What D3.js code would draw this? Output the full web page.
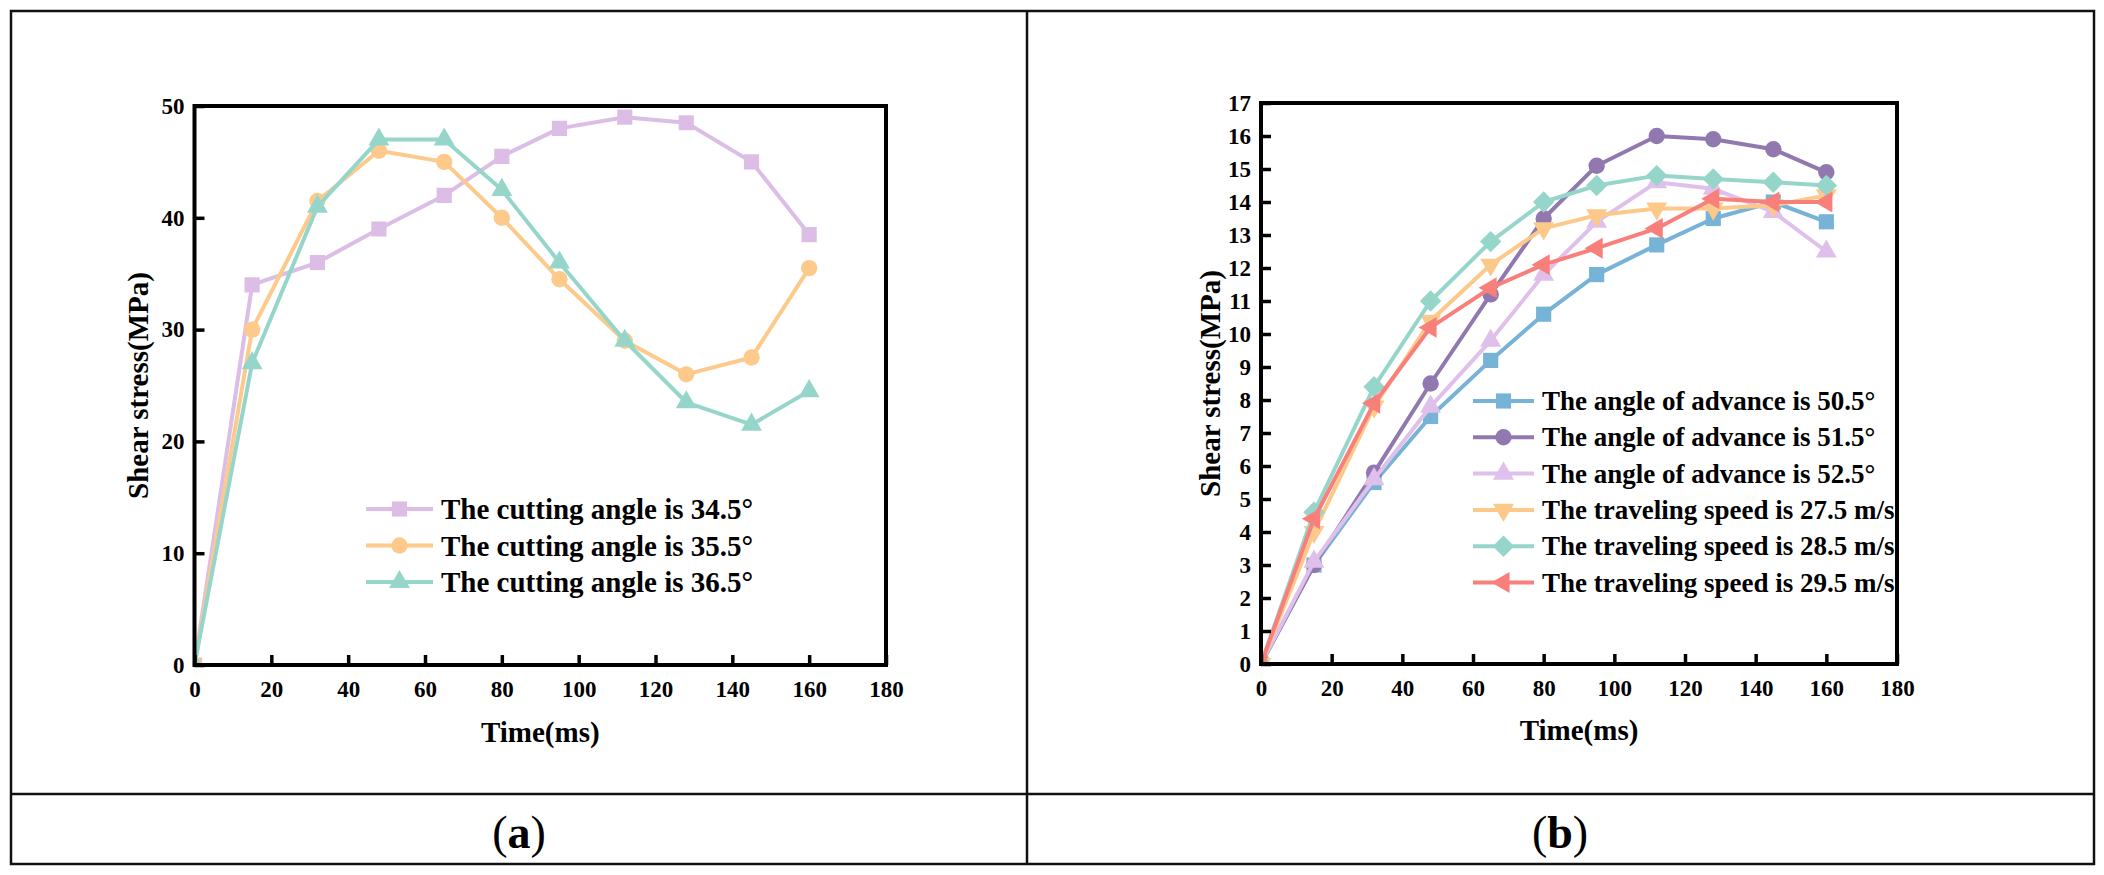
<!DOCTYPE html>
<html><head><meta charset="utf-8">
<script src="https://cdn.jsdelivr.net/npm/d3@7"></script>
<style>
body{margin:0;background:#fff}
svg{display:block}
text{font-family:"Liberation Serif","Times New Roman",serif;font-weight:bold;fill:#000}
</style></head>
<body><svg id="c" width="2104" height="875"></svg>
<script>
// ---------- data ----------
const timeMs = [0, 15, 32, 48, 65, 80, 95, 112, 128, 145, 160];
const xTicks = [0, 20, 40, 60, 80, 100, 120, 140, 160, 180];
const yTicksA = [0, 10, 20, 30, 40, 50];
const yTicksB = [0,1,2,3,4,5,6,7,8,9,10,11,12,13,14,15,16,17];

const cut345 = [0, 34, 36, 39, 42, 45.5, 48, 49, 48.5, 45, 38.5];
const cut355 = [0, 30, 41.5, 46, 45, 40, 34.5, 29, 26, 27.5, 35.5];
const cut365 = [0, 27, 41, 47, 47, 42.5, 36, 29, 23.5, 21.5, 24.5];

const adv505 = [0, 3, 5.5, 7.5, 9.2, 10.6, 11.8, 12.7, 13.5, 14.0, 13.4];
const adv515 = [0, 3, 5.8, 8.5, 11.2, 13.5, 15.1, 16.0, 15.9, 15.6, 14.9];
const adv525 = [0, 3.1, 5.6, 7.8, 9.8, 11.8, 13.4, 14.6, 14.4, 13.7, 12.5];
const spd275 = [0, 4.0, 7.8, 10.4, 12.1, 13.2, 13.6, 13.8, 13.8, 13.9, 14.2];
const spd285 = [0, 4.6, 8.4, 11.0, 12.8, 14.0, 14.5, 14.8, 14.7, 14.6, 14.5];
const spd295 = [0, 4.4, 7.9, 10.2, 11.4, 12.1, 12.6, 13.2, 14.1, 14.0, 14.0];

const namesA = ["The cutting angle is 34.5°", "The cutting angle is 35.5°", "The cutting angle is 36.5°"];
const namesB = ["The angle of advance is 50.5°", "The angle of advance is 51.5°", "The angle of advance is 52.5°",
  "The traveling speed is 27.5 m/s", "The traveling speed is 28.5 m/s", "The traveling speed is 29.5 m/s"];
const yTitle = "Shear stress(MPa)";
const xTitle = "Time(ms)";

// ---------- styles ----------
const svg = d3.select("#c");
const sym = {
  square: {type: d3.symbolSquare, size: 230, rot: 0},
  circle: {type: d3.symbolCircle, size: 210, rot: 0},
  triUp: {type: d3.symbolTriangle, size: 190, rot: 0},
  triDown: {type: d3.symbolTriangle, size: 190, rot: 180},
  diamond: {type: d3.symbolSquare, size: 230, rot: 45},
  triLeft: {type: d3.symbolTriangle, size: 190, rot: -90}
};

const seriesA = [
  {name: namesA[0], vals: cut345, color: "#dcbde6", s: sym.square},
  {name: namesA[1], vals: cut355, color: "#fdca8c", s: sym.circle},
  {name: namesA[2], vals: cut365, color: "#96d6ca", s: sym.triUp}
];
const seriesB = [
  {name: namesB[0], vals: adv505, color: "#76b3d6", s: sym.square},
  {name: namesB[1], vals: adv515, color: "#9179b0", s: sym.circle},
  {name: namesB[2], vals: adv525, color: "#dfc0ea", s: sym.triUp},
  {name: namesB[3], vals: spd275, color: "#fdc98a", s: sym.triDown},
  {name: namesB[4], vals: spd285, color: "#96d6ca", s: sym.diamond},
  {name: namesB[5], vals: spd295, color: "#f97f7b", s: sym.triLeft}
];

// ---------- frame ----------
svg.append("rect").attr("x", 11).attr("y", 11).attr("width", 2083).attr("height", 853)
  .attr("fill", "none").attr("stroke", "#111").attr("stroke-width", 2.5);
svg.append("line").attr("x1", 1027).attr("x2", 1027).attr("y1", 11).attr("y2", 864)
  .attr("stroke", "#111").attr("stroke-width", 2.5);
svg.append("line").attr("x1", 11).attr("x2", 2094).attr("y1", 794).attr("y2", 794)
  .attr("stroke", "#111").attr("stroke-width", 2.5);

function panelLabel(cx, letter) {
  const t = svg.append("text").attr("x", cx).attr("y", 848).attr("text-anchor", "middle")
    .style("font-size", "46px").style("font-weight", "normal");
  t.append("tspan").text("(");
  t.append("tspan").text(letter).style("font-weight", "bold");
  t.append("tspan").text(")");
}
panelLabel(519, "a");
panelLabel(1560, "b");

function drawPanel(cfg) {
  const x = d3.scaleLinear().domain([0, 180]).range([cfg.x0, cfg.x1]);
  const y = d3.scaleLinear().domain(cfg.ydom).range([cfg.y1, cfg.y0]);
  const g = svg.append("g");
  const clipId = "clip" + cfg.id;
  g.append("clipPath").attr("id", clipId).append("rect")
    .attr("x", cfg.x0).attr("y", cfg.y0).attr("width", cfg.x1 - cfg.x0).attr("height", cfg.y1 - cfg.y0);

  const line = d3.line().x((d, i) => x(timeMs[i])).y(d => y(d));
  const plot = g.append("g").attr("clip-path", `url(#${clipId})`);
  cfg.series.forEach(s => {
    plot.append("path").attr("d", line(s.vals)).attr("fill", "none")
      .attr("stroke", s.color).attr("stroke-width", 4).attr("stroke-linejoin", "round");
    plot.selectAll(null).data(s.vals).enter().append("path")
      .attr("d", d3.symbol().type(s.s.type).size(s.s.size))
      .attr("transform", (d, i) => `translate(${x(timeMs[i])},${y(d)}) rotate(${s.s.rot})`)
      .attr("fill", s.color);
  });

  // axes
  const xa = g.append("g").attr("transform", `translate(0,${cfg.y1})`)
    .call(d3.axisBottom(x).tickValues(xTicks).tickSizeInner(-10).tickSizeOuter(0).tickPadding(16));
  const ya = g.append("g").attr("transform", `translate(${cfg.x0},0)`)
    .call(d3.axisLeft(y).tickValues(cfg.yticks).tickSizeInner(-10).tickSizeOuter(0).tickPadding(10));
  [xa, ya].forEach(a => {
    a.select(".domain").remove();
    a.selectAll(".tick line").attr("stroke", "#000").attr("stroke-width", 3.5);
    a.selectAll(".tick text").style("font-size", "23px").style("font-family", '"Liberation Serif",serif')
      .style("font-weight", "bold").attr("fill", "#000");
  });
  g.append("rect").attr("x", cfg.x0).attr("y", cfg.y0).attr("width", cfg.x1 - cfg.x0).attr("height", cfg.y1 - cfg.y0)
    .attr("fill", "none").attr("stroke", "#000").attr("stroke-width", 4);

  // titles
  g.append("text").attr("x", (cfg.x0 + cfg.x1) / 2).attr("y", cfg.xtY).attr("text-anchor", "middle")
    .attr("dominant-baseline", "central").style("font-size", "29px").text(xTitle);
  g.append("text").attr("transform", `translate(${cfg.ytX},${(cfg.y0 + cfg.y1) / 2}) rotate(-90)`)
    .attr("text-anchor", "middle").attr("dominant-baseline", "central").style("font-size", "29px").text(yTitle);

  // legend
  const lg = g.append("g");
  cfg.series.forEach((s, i) => {
    const ry = cfg.leg.y + i * cfg.leg.dy;
    lg.append("line").attr("x1", cfg.leg.x).attr("x2", cfg.leg.x + cfg.leg.len).attr("y1", ry).attr("y2", ry)
      .attr("stroke", s.color).attr("stroke-width", 4);
    lg.append("path").attr("d", d3.symbol().type(s.s.type).size(s.s.size))
      .attr("transform", `translate(${cfg.leg.x + cfg.leg.len / 2},${ry}) rotate(${s.s.rot})`)
      .attr("fill", s.color);
    lg.append("text").attr("x", cfg.leg.tx).attr("y", ry).attr("dominant-baseline", "central")
      .style("font-size", cfg.leg.fs + "px").text(s.name);
  });
}

drawPanel({id: "a", x0: 194.5, x1: 886, y0: 106, y1: 665, ydom: [0, 50], yticks: yTicksA,
  series: seriesA, xtY: 732, ytX: 138,
  leg: {x: 366, len: 67, tx: 441, y: 509, dy: 36.5, fs: 29}});
drawPanel({id: "b", x0: 1261, x1: 1897, y0: 103, y1: 664, ydom: [0, 17], yticks: yTicksB,
  series: seriesB, xtY: 730, ytX: 1210,
  leg: {x: 1473, len: 61, tx: 1542, y: 401, dy: 36.3, fs: 27}});
</script>
</body></html>
